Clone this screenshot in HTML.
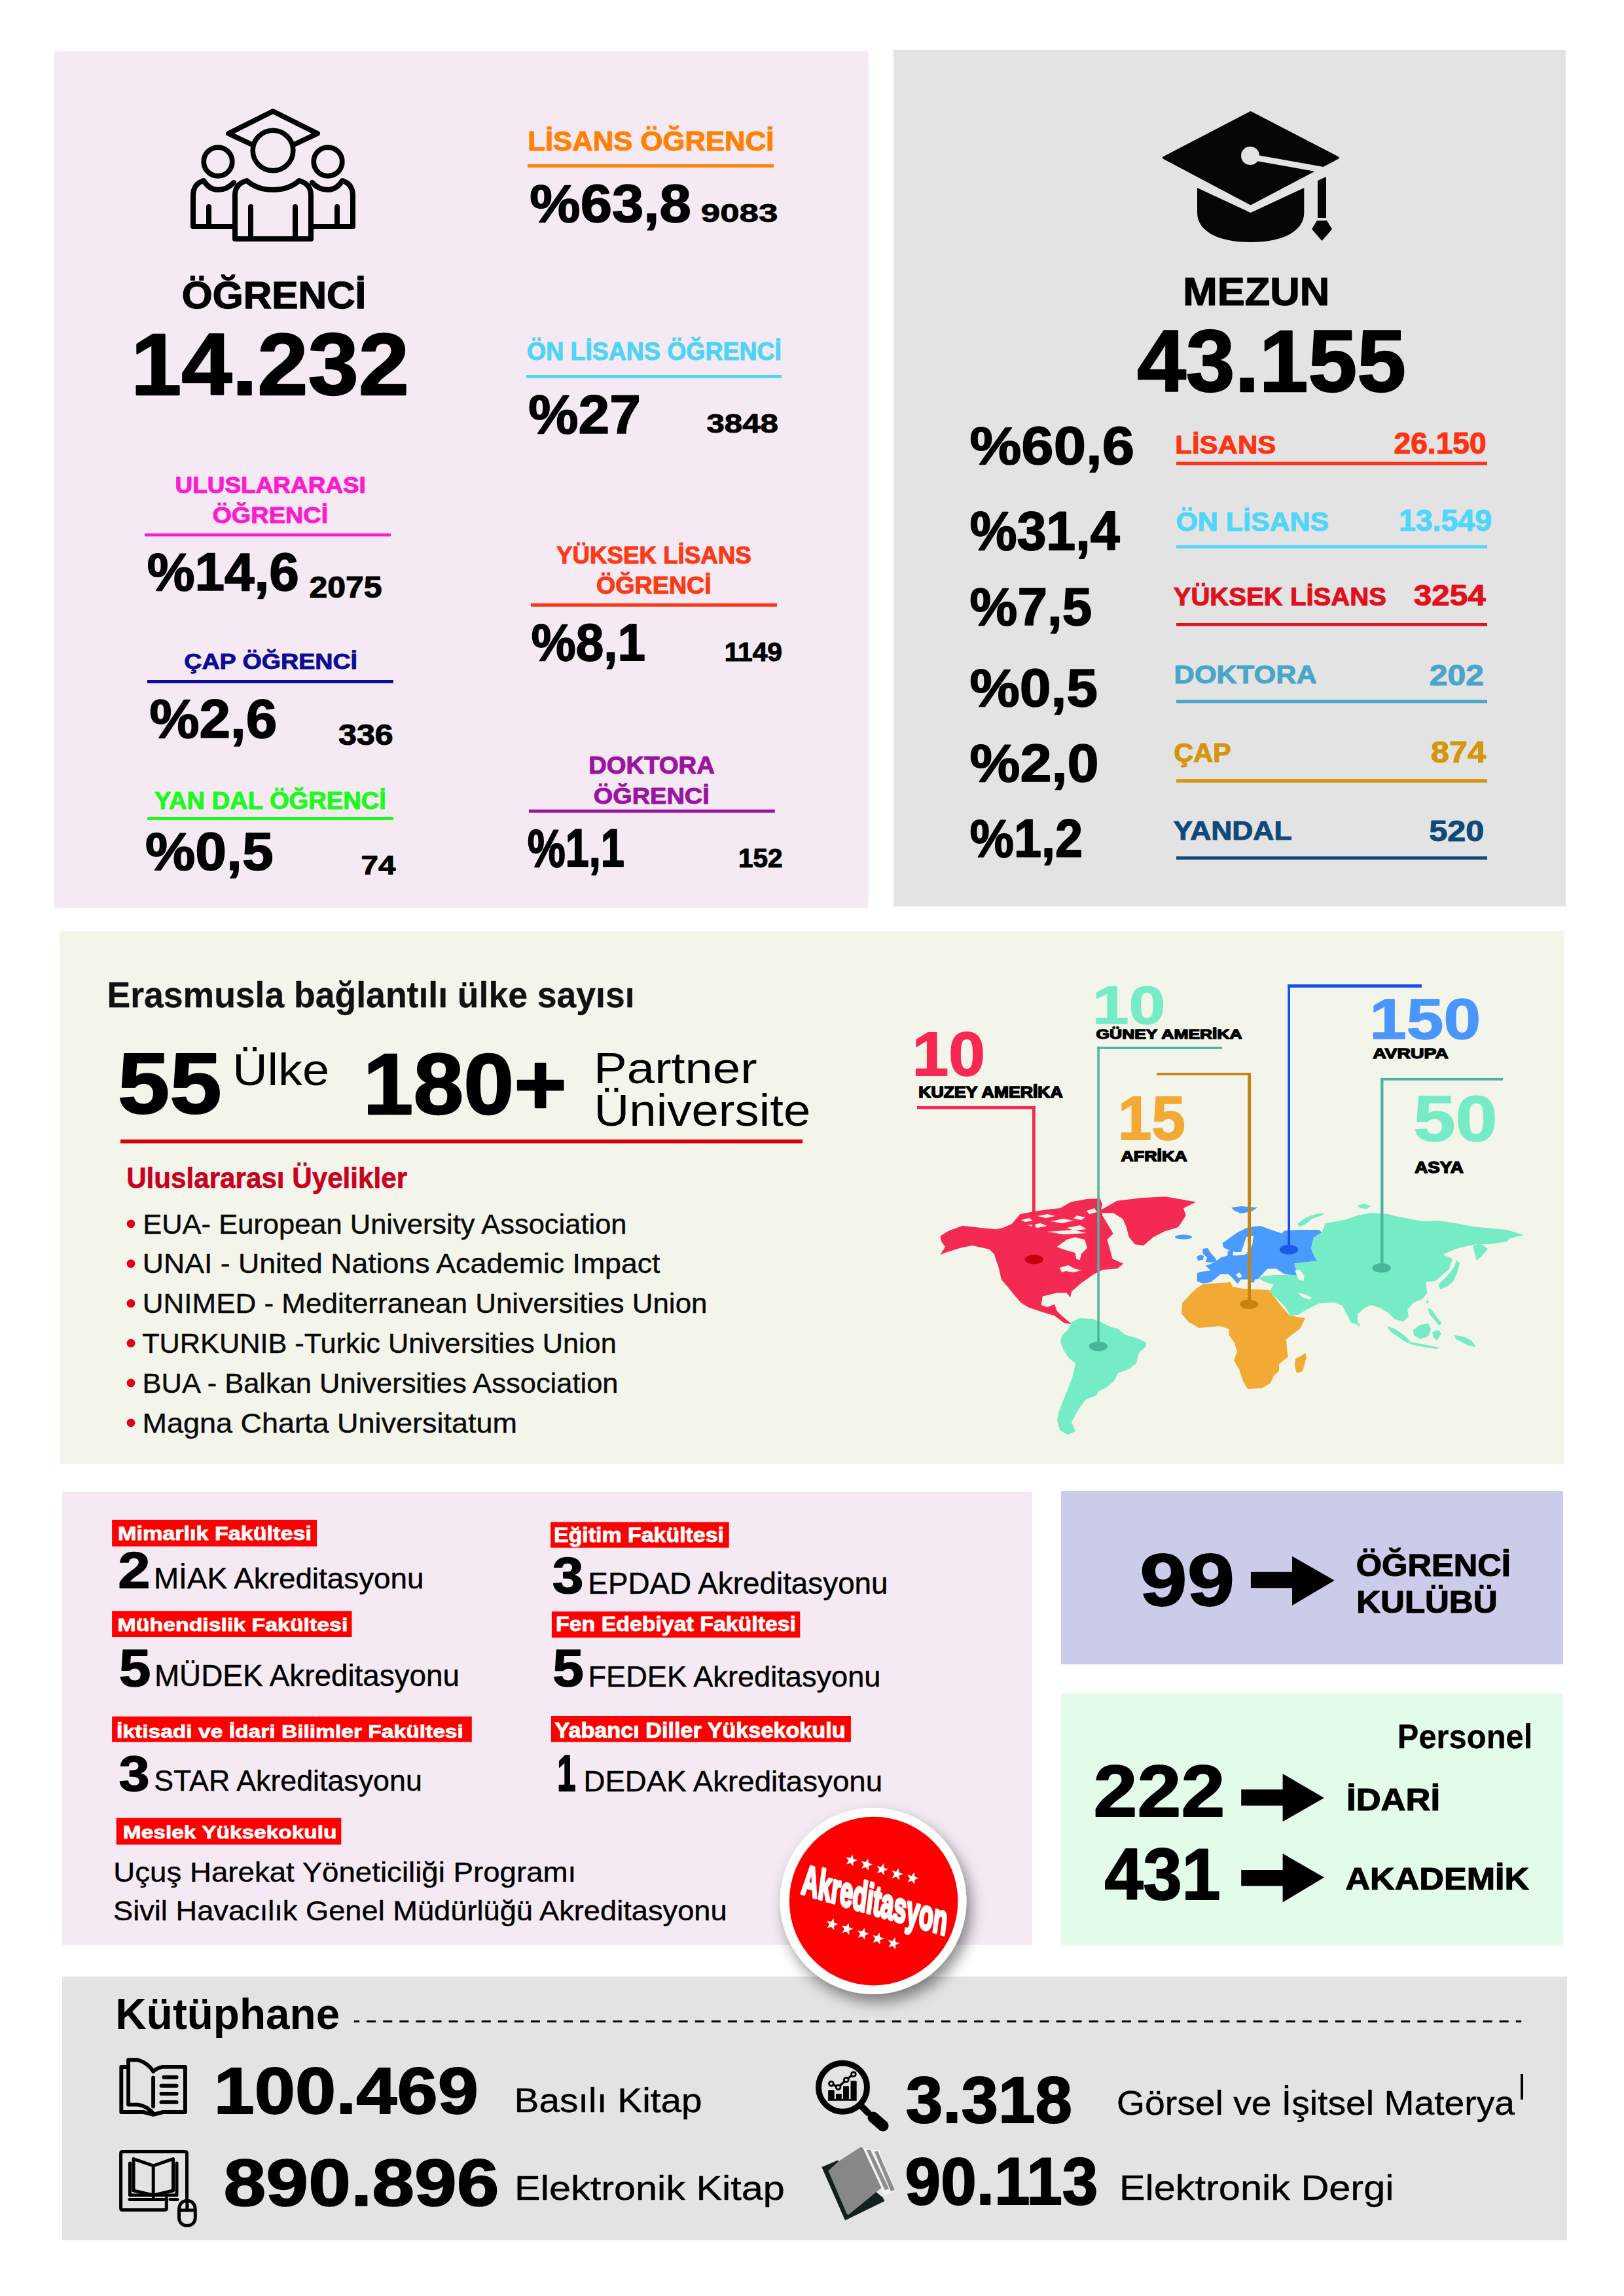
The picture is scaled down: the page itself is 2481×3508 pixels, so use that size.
<!DOCTYPE html>
<html lang="tr"><head><meta charset="utf-8"><title>Öğrenci ve Mezun İstatistikleri</title>
<style>
html,body{margin:0;padding:0;background:#fff;}
body{width:2481px;height:3508px;overflow:hidden;}
svg{display:block;}
text{font-family:"Liberation Sans",Arial,Helvetica,sans-serif;font-kerning:normal;}
text.b{font-weight:700;}
text.r{font-weight:400;}
</style></head><body>
<svg xmlns="http://www.w3.org/2000/svg" width="2481" height="3508" viewBox="0 0 2481 3508">
<rect x="0" y="0" width="2481" height="3508" fill="#ffffff"/>
<rect x="83.0" y="78.0" width="1244.0" height="1309.0" fill="#f5eaf4"/>
<rect x="1365.0" y="76.0" width="1027.0" height="1309.0" fill="#e3e3e3"/>
<rect x="91.0" y="1423.0" width="2298.0" height="814.0" fill="#f4f5ea"/>
<rect x="95.0" y="2279.0" width="1482.0" height="693.0" fill="#f5eaf4"/>
<rect x="1621.0" y="2278.0" width="767.0" height="265.0" fill="#cbcbea"/>
<rect x="1621.0" y="2587.0" width="767.0" height="385.0" fill="#e3fcea"/>
<rect x="95.0" y="3020.0" width="2299.0" height="403.0" fill="#e3e3e3"/>
<g fill="none" stroke="#000" stroke-width="8" stroke-linejoin="round" stroke-linecap="round">
<polygon points="349,204 417,170 485,204 417,236"/>
<circle cx="333" cy="247" r="21.8" fill="#f5eaf4" stroke-width="7.7"/>
<circle cx="501" cy="247" r="21.8" fill="#f5eaf4" stroke-width="7.7"/>
<path d="M357,346 L295,346 L295,299 Q295,281 311,276 Q320,290 333,290 Q347,290 357,279"/>
<path d="M477,346 L539,346 L539,299 Q539,281 523,276 Q514,290 501,290 Q487,290 477,279"/>
<path d="M319,316 L319,346 M515,316 L515,346"/>
<path d="M359,365 L359,298 Q359,281 377,276 Q393,290 417,290 Q441,290 457,276 Q475,281 475,298 L475,365 Z" fill="#f5eaf4"/>
<path d="M383,316 L383,365 M451,316 L451,365"/>
<circle cx="417" cy="230" r="30.8" fill="#f5eaf4" stroke-width="7.6"/>
</g>
<text class="b" x="277.87" y="471.21" font-size="57.64" textLength="281.49" lengthAdjust="spacingAndGlyphs" fill="#000000" stroke="#000000" stroke-width="1.31" stroke-linejoin="round">ÖĞRENCİ</text>
<text class="b" x="200.01" y="602.80" font-size="132.77" textLength="425.17" lengthAdjust="spacingAndGlyphs" fill="#000000" stroke="#000000" stroke-width="2.29" stroke-linejoin="round">14.232</text>
<text class="b" x="806.24" y="230.42" font-size="41.94" textLength="376.11" lengthAdjust="spacingAndGlyphs" fill="#ff8205" stroke="#ff8205" stroke-width="1.12" stroke-linejoin="round">LİSANS ÖĞRENCİ</text>
<rect x="806.0" y="251.0" width="376.0" height="5.0" fill="#ff8205"/>
<text class="b" x="809.38" y="338.55" font-size="81.71" textLength="246.42" lengthAdjust="spacingAndGlyphs" fill="#000000" stroke="#000000" stroke-width="1.61" stroke-linejoin="round">%63,8</text>
<text class="b" x="1070.72" y="338.83" font-size="39.09" textLength="117.68" lengthAdjust="spacingAndGlyphs" fill="#000000" stroke="#000000" stroke-width="0.84" stroke-linejoin="round">9083</text>
<text class="b" x="805.06" y="549.84" font-size="38.51" textLength="388.90" lengthAdjust="spacingAndGlyphs" fill="#4fd4f6" stroke="#4fd4f6" stroke-width="1.15" stroke-linejoin="round">ÖN LİSANS ÖĞRENCİ</text>
<rect x="804.0" y="573.0" width="390.0" height="4.6" fill="#4fd4f6"/>
<text class="b" x="807.33" y="661.53" font-size="84.10" textLength="171.58" lengthAdjust="spacingAndGlyphs" fill="#000000" stroke="#000000" stroke-width="1.71" stroke-linejoin="round">%27</text>
<text class="b" x="1079.48" y="661.42" font-size="41.34" textLength="109.53" lengthAdjust="spacingAndGlyphs" fill="#000000" stroke="#000000" stroke-width="0.98" stroke-linejoin="round">3848</text>
<text class="b" x="267.62" y="753.26" font-size="35.37" textLength="291.28" lengthAdjust="spacingAndGlyphs" fill="#fc1ccf" stroke="#fc1ccf" stroke-width="1.03" stroke-linejoin="round">ULUSLARARASI</text>
<text class="b" x="324.42" y="799.07" font-size="34.23" textLength="176.79" lengthAdjust="spacingAndGlyphs" fill="#fc1ccf" stroke="#fc1ccf" stroke-width="0.96" stroke-linejoin="round">ÖĞRENCİ</text>
<rect x="221.0" y="815.0" width="376.0" height="4.5" fill="#fc1ccf"/>
<text class="b" x="224.70" y="902.15" font-size="81.00" textLength="232.06" lengthAdjust="spacingAndGlyphs" fill="#000000" stroke="#000000" stroke-width="1.68" stroke-linejoin="round">%14,6</text>
<text class="b" x="472.46" y="913.39" font-size="45.56" textLength="111.11" lengthAdjust="spacingAndGlyphs" fill="#000000" stroke="#000000" stroke-width="1.12" stroke-linejoin="round">2075</text>
<text class="b" x="281.22" y="1022.08" font-size="33.09" textLength="264.82" lengthAdjust="spacingAndGlyphs" fill="#0c0c94" stroke="#0c0c94" stroke-width="0.92" stroke-linejoin="round">ÇAP ÖĞRENCİ</text>
<rect x="225.0" y="1039.0" width="375.8" height="5.0" fill="#0c0c94"/>
<text class="b" x="228.42" y="1127.14" font-size="82.69" textLength="194.87" lengthAdjust="spacingAndGlyphs" fill="#000000" stroke="#000000" stroke-width="1.67" stroke-linejoin="round">%2,6</text>
<text class="b" x="517.08" y="1137.79" font-size="45.28" textLength="83.61" lengthAdjust="spacingAndGlyphs" fill="#000000" stroke="#000000" stroke-width="1.10" stroke-linejoin="round">336</text>
<text class="b" x="236.08" y="1235.86" font-size="36.09" textLength="353.84" lengthAdjust="spacingAndGlyphs" fill="#1cfb1c" stroke="#1cfb1c" stroke-width="1.03" stroke-linejoin="round">YAN DAL ÖĞRENCİ</text>
<rect x="225.0" y="1248.0" width="376.0" height="5.0" fill="#1cfb1c"/>
<text class="b" x="222.01" y="1329.14" font-size="82.13" textLength="195.65" lengthAdjust="spacingAndGlyphs" fill="#000000" stroke="#000000" stroke-width="1.64" stroke-linejoin="round">%0,5</text>
<text class="b" x="551.55" y="1335.93" font-size="39.80" textLength="52.93" lengthAdjust="spacingAndGlyphs" fill="#000000" stroke="#000000" stroke-width="0.95" stroke-linejoin="round">74</text>
<text class="b" x="849.91" y="861.14" font-size="37.80" textLength="297.90" lengthAdjust="spacingAndGlyphs" fill="#fb3a16" stroke="#fb3a16" stroke-width="1.14" stroke-linejoin="round">YÜKSEK LİSANS</text>
<text class="b" x="911.05" y="907.15" font-size="37.23" textLength="175.73" lengthAdjust="spacingAndGlyphs" fill="#fb3a16" stroke="#fb3a16" stroke-width="1.09" stroke-linejoin="round">ÖĞRENCİ</text>
<rect x="811.0" y="921.7" width="376.0" height="5.2" fill="#fb3a16"/>
<text class="b" x="811.74" y="1008.75" font-size="80.58" textLength="174.16" lengthAdjust="spacingAndGlyphs" fill="#000000" stroke="#000000" stroke-width="1.79" stroke-linejoin="round">%8,1</text>
<text class="b" x="1106.64" y="1009.82" font-size="40.92" textLength="88.29" lengthAdjust="spacingAndGlyphs" fill="#000000" stroke="#000000" stroke-width="1.17" stroke-linejoin="round">1149</text>
<text class="b" x="899.17" y="1181.95" font-size="37.09" textLength="192.62" lengthAdjust="spacingAndGlyphs" fill="#9a14a0" stroke="#9a14a0" stroke-width="1.07" stroke-linejoin="round">DOKTORA</text>
<text class="b" x="906.72" y="1227.76" font-size="34.95" textLength="176.99" lengthAdjust="spacingAndGlyphs" fill="#9a14a0" stroke="#9a14a0" stroke-width="0.99" stroke-linejoin="round">ÖĞRENCİ</text>
<rect x="808.0" y="1236.8" width="375.8" height="4.9" fill="#9a14a0"/>
<text class="b" x="806.03" y="1324.35" font-size="82.18" textLength="147.93" lengthAdjust="spacingAndGlyphs" fill="#000000" stroke="#000000" stroke-width="2.15" stroke-linejoin="round">%1,1</text>
<text class="b" x="1128.05" y="1324.62" font-size="40.92" textLength="67.63" lengthAdjust="spacingAndGlyphs" fill="#000000" stroke="#000000" stroke-width="1.17" stroke-linejoin="round">152</text>
<g fill="#050505">
<polygon points="1778,241 1910.6,172 2043.7,241 1910.6,311.3" stroke="#050505" stroke-width="4" stroke-linejoin="round"/>
<line x1="1912" y1="240" x2="2024" y2="260" stroke="#e3e3e3" stroke-width="9"/>
<circle cx="1910" cy="238" r="14" fill="#e3e3e3"/>
<path d="M1829,287 L1910.6,325 L1992.3,287 L1992.3,325 C1992.3,352 1962,370 1910.6,370 C1859,370 1829,352 1829,325 Z"/>
<polygon points="2013,276 2026,270 2026,333 2013,333"/>
<polygon points="2012,337 2027,337 2035,350 2019.5,368 2004,350"/>
</g>
<text class="b" x="1807.35" y="466.30" font-size="59.06" textLength="223.82" lengthAdjust="spacingAndGlyphs" fill="#000000" stroke="#000000" stroke-width="1.31" stroke-linejoin="round">MEZUN</text>
<text class="b" x="1737.19" y="598.30" font-size="133.61" textLength="410.76" lengthAdjust="spacingAndGlyphs" fill="#000000" stroke="#000000" stroke-width="2.39" stroke-linejoin="round">43.155</text>
<text class="b" x="1481.44" y="709.14" font-size="81.85" textLength="251.66" lengthAdjust="spacingAndGlyphs" fill="#000000" stroke="#000000" stroke-width="1.58" stroke-linejoin="round">%60,6</text>
<text class="b" x="1795.33" y="693.23" font-size="39.37" textLength="153.86" lengthAdjust="spacingAndGlyphs" fill="#fc3414" stroke="#fc3414" stroke-width="1.06" stroke-linejoin="round">LİSANS</text>
<text class="b" x="2129.60" y="692.59" font-size="45.98" textLength="140.98" lengthAdjust="spacingAndGlyphs" fill="#fc3414" stroke="#fc3414" stroke-width="1.23" stroke-linejoin="round">26.150</text>
<rect x="1797.0" y="705.6" width="475.0" height="5.2" fill="#fc3414"/>
<text class="b" x="1481.64" y="839.54" font-size="83.11" textLength="229.04" lengthAdjust="spacingAndGlyphs" fill="#000000" stroke="#000000" stroke-width="1.78" stroke-linejoin="round">%31,4</text>
<text class="b" x="1796.46" y="811.42" font-size="41.23" textLength="233.67" lengthAdjust="spacingAndGlyphs" fill="#4fd6fc" stroke="#4fd6fc" stroke-width="1.11" stroke-linejoin="round">ÖN LİSANS</text>
<text class="b" x="2137.01" y="810.69" font-size="45.56" textLength="141.96" lengthAdjust="spacingAndGlyphs" fill="#4fd6fc" stroke="#4fd6fc" stroke-width="1.20" stroke-linejoin="round">13.549</text>
<rect x="1797.0" y="833.2" width="475.0" height="4.5" fill="#4fd6fc"/>
<text class="b" x="1481.60" y="954.95" font-size="82.18" textLength="186.65" lengthAdjust="spacingAndGlyphs" fill="#000000" stroke="#000000" stroke-width="1.71" stroke-linejoin="round">%7,5</text>
<text class="b" x="1792.66" y="924.83" font-size="39.37" textLength="325.27" lengthAdjust="spacingAndGlyphs" fill="#e0101c" stroke="#e0101c" stroke-width="1.11" stroke-linejoin="round">YÜKSEK LİSANS</text>
<text class="b" x="2159.89" y="925.40" font-size="44.15" textLength="109.76" lengthAdjust="spacingAndGlyphs" fill="#e0101c" stroke="#e0101c" stroke-width="1.08" stroke-linejoin="round">3254</text>
<rect x="1797.0" y="952.0" width="475.0" height="4.5" fill="#e0101c"/>
<text class="b" x="1481.51" y="1079.34" font-size="82.41" textLength="195.55" lengthAdjust="spacingAndGlyphs" fill="#000000" stroke="#000000" stroke-width="1.65" stroke-linejoin="round">%0,5</text>
<text class="b" x="1793.64" y="1043.93" font-size="39.23" textLength="218.17" lengthAdjust="spacingAndGlyphs" fill="#4aa6c8" stroke="#4aa6c8" stroke-width="1.02" stroke-linejoin="round">DOKTORA</text>
<text class="b" x="2183.86" y="1047.09" font-size="45.14" textLength="83.15" lengthAdjust="spacingAndGlyphs" fill="#4aa6c8" stroke="#4aa6c8" stroke-width="1.10" stroke-linejoin="round">202</text>
<rect x="1797.0" y="1069.2" width="475.0" height="5.1" fill="#4aa6c8"/>
<text class="b" x="1481.49" y="1193.84" font-size="82.27" textLength="197.27" lengthAdjust="spacingAndGlyphs" fill="#000000" stroke="#000000" stroke-width="1.63" stroke-linejoin="round">%2,0</text>
<text class="b" x="1793.32" y="1163.73" font-size="40.23" textLength="87.41" lengthAdjust="spacingAndGlyphs" fill="#d4960f" stroke="#d4960f" stroke-width="1.11" stroke-linejoin="round">ÇAP</text>
<text class="b" x="2185.67" y="1164.58" font-size="46.40" textLength="84.52" lengthAdjust="spacingAndGlyphs" fill="#d4960f" stroke="#d4960f" stroke-width="1.13" stroke-linejoin="round">874</text>
<rect x="1797.0" y="1190.2" width="475.0" height="5.5" fill="#d4960f"/>
<text class="b" x="1481.76" y="1309.45" font-size="81.57" textLength="172.36" lengthAdjust="spacingAndGlyphs" fill="#000000" stroke="#000000" stroke-width="1.84" stroke-linejoin="round">%1,2</text>
<text class="b" x="1792.60" y="1283.12" font-size="41.08" textLength="180.95" lengthAdjust="spacingAndGlyphs" fill="#0f4a7b" stroke="#0f4a7b" stroke-width="1.07" stroke-linejoin="round">YANDAL</text>
<text class="b" x="2183.19" y="1284.70" font-size="44.15" textLength="83.97" lengthAdjust="spacingAndGlyphs" fill="#0f4a7b" stroke="#0f4a7b" stroke-width="1.06" stroke-linejoin="round">520</text>
<rect x="1797.0" y="1308.4" width="475.0" height="5.1" fill="#0f4a7b"/>
<text class="b" x="163.54" y="1538.55" font-size="55.85" textLength="806.09" lengthAdjust="spacingAndGlyphs" fill="#111111" stroke="#111111" stroke-width="0.31" stroke-linejoin="round">Erasmusla bağlantılı ülke sayısı</text>
<text class="b" x="179.69" y="1700.82" font-size="131.84" textLength="158.89" lengthAdjust="spacingAndGlyphs" fill="#000000" stroke="#000000" stroke-width="2.18" stroke-linejoin="round">55</text>
<text class="r" x="355.17" y="1658.30" font-size="69.09" textLength="148.02" lengthAdjust="spacingAndGlyphs" fill="#000000">Ülke</text>
<text class="b" x="554.56" y="1701.60" font-size="132.49" textLength="311.32" lengthAdjust="spacingAndGlyphs" fill="#000000" stroke="#000000" stroke-width="2.29" stroke-linejoin="round">180+</text>
<text class="r" x="907.13" y="1654.70" font-size="67.49" textLength="249.37" lengthAdjust="spacingAndGlyphs" fill="#000000">Partner</text>
<text class="r" x="907.64" y="1719.70" font-size="67.93" textLength="330.70" lengthAdjust="spacingAndGlyphs" fill="#000000">Üniversite</text>
<rect x="184.0" y="1741.0" width="1042.0" height="6.0" fill="#d9000d"/>
<text class="b" x="193.17" y="1815.10" font-size="43.93" textLength="428.89" lengthAdjust="spacingAndGlyphs" fill="#c8001e" stroke="#c8001e" stroke-width="0.63" stroke-linejoin="round">Uluslararası Üyelikler</text>
<text class="r" x="218.24" y="1884.58" font-size="43.42" textLength="739.29" lengthAdjust="spacingAndGlyphs" fill="#0a0a0a" stroke="#0a0a0a" stroke-width="0.45" stroke-linejoin="round">EUA- European University Association</text>
<circle cx="200" cy="1869.8" r="6.4" fill="#e0001a"/>
<text class="r" x="217.77" y="1945.38" font-size="43.42" textLength="790.62" lengthAdjust="spacingAndGlyphs" fill="#0a0a0a" stroke="#0a0a0a" stroke-width="0.44" stroke-linejoin="round">UNAI - United Nations Academic Impact</text>
<circle cx="200" cy="1930.6" r="6.4" fill="#e0001a"/>
<text class="r" x="217.82" y="2006.17" font-size="43.42" textLength="862.74" lengthAdjust="spacingAndGlyphs" fill="#0a0a0a" stroke="#0a0a0a" stroke-width="0.44" stroke-linejoin="round">UNIMED - Mediterranean Universities Union</text>
<circle cx="200" cy="1991.4" r="6.4" fill="#e0001a"/>
<text class="r" x="217.15" y="2066.97" font-size="43.42" textLength="724.60" lengthAdjust="spacingAndGlyphs" fill="#0a0a0a" stroke="#0a0a0a" stroke-width="0.45" stroke-linejoin="round">TURKUNIB -Turkic Universities Union</text>
<circle cx="200" cy="2052.2" r="6.4" fill="#e0001a"/>
<text class="r" x="217.64" y="2127.78" font-size="43.42" textLength="726.85" lengthAdjust="spacingAndGlyphs" fill="#0a0a0a" stroke="#0a0a0a" stroke-width="0.45" stroke-linejoin="round">BUA - Balkan Universities Association</text>
<circle cx="200" cy="2113.0" r="6.4" fill="#e0001a"/>
<text class="r" x="217.51" y="2188.58" font-size="43.42" textLength="572.61" lengthAdjust="spacingAndGlyphs" fill="#0a0a0a" stroke="#0a0a0a" stroke-width="0.43" stroke-linejoin="round">Magna Charta Universitatum</text>
<circle cx="200" cy="2173.8" r="6.4" fill="#e0001a"/>
<polygon points="1436.5,1888.4 1448.5,1881.0 1470.6,1872.7 1494.7,1875.4 1522.4,1878.2 1533.5,1875.4 1545.5,1869.9 1558.5,1855.1 1577.0,1851.4 1601.0,1847.7 1619.4,1845.9 1636.0,1836.6 1660.0,1832.0 1680.4,1831.1 1684.0,1840.0 1682.3,1845.9 1684.1,1857.0 1700.7,1884.7 1691.5,1893.9 1694.0,1903.0 1699.7,1923.5 1716.3,1930.8 1707.0,1938.2 1685.0,1940.0 1670.0,1947.5 1651.7,1960.4 1637.0,1973.3 1635.0,1982.6 1629.5,1975.2 1614.7,1975.2 1592.6,1980.7 1590.7,1993.7 1600.0,1997.3 1611.0,1992.7 1614.7,2002.9 1622.1,2010.3 1633.2,2019.5 1636.9,2023.2 1625.8,2021.4 1611.0,2010.3 1592.6,2004.7 1570.4,1997.3 1559.3,1990.0 1548.2,1977.0 1540.8,1967.8 1529.8,1954.9 1526.1,1938.2 1518.7,1916.1 1511.3,1908.7 1485.4,1903.1 1467.0,1906.8 1448.5,1912.4 1436.5,1917.0 1444.0,1905.0 1438.0,1897.0" fill="#f42a52"/>
<polygon points="1614.7,1905.0 1629.5,1893.9 1642.5,1890.2 1657.2,1893.9 1661.0,1906.8 1651.7,1916.0 1649.8,1925.3 1644.3,1923.5 1642.5,1914.2 1624.0,1908.7" fill="#f4f5ea"/>
<polygon points="1619.0,1937.0 1632.0,1933.0 1641.0,1938.0 1652.0,1941.0 1640.0,1944.0 1628.0,1942.0 1622.0,1944.0" fill="#f4f5ea"/>
<polygon points="1585.0,1858.0 1600.0,1855.0 1612.0,1858.0 1598.0,1861.0" fill="#f4f5ea"/>
<polygon points="1605.0,1866.0 1625.0,1862.0 1640.0,1865.0 1622.0,1869.0" fill="#f4f5ea"/>
<polygon points="1570.0,1872.0 1590.0,1869.0 1600.0,1873.0 1585.0,1876.0" fill="#f4f5ea"/>
<polygon points="1630.0,1876.0 1650.0,1872.0 1660.0,1878.0 1640.0,1880.0" fill="#f4f5ea"/>
<polygon points="1660.0,1850.0 1672.0,1846.0 1676.0,1852.0 1664.0,1855.0" fill="#f4f5ea"/>
<polygon points="1600.0,1882.0 1640.0,1879.0 1660.0,1884.0 1625.0,1886.0" fill="#f4f5ea"/>
<polygon points="1560.0,1864.0 1572.0,1861.0 1578.0,1865.0 1566.0,1867.0" fill="#f4f5ea"/>
<polygon points="1645.0,1857.0 1658.0,1860.0 1652.0,1864.0 1640.0,1862.0" fill="#f4f5ea"/>
<polygon points="1680.4,1849.6 1706.3,1834.8 1743.2,1830.2 1780.2,1828.3 1807.9,1832.9 1827.3,1836.6 1807.9,1845.9 1811.6,1856.9 1802.3,1871.7 1798.6,1875.4 1780.2,1881.0 1761.7,1890.2 1746.9,1903.1 1734.0,1901.3 1724.7,1890.2 1721.0,1875.4 1715.5,1862.5 1700.7,1853.3 1684.1,1853.3" fill="#f42a52"/>
<polygon points="1637.0,2020.0 1649.0,2014.0 1669.0,2015.0 1682.0,2020.0 1698.0,2028.0 1708.0,2030.0 1718.0,2039.0 1738.0,2045.0 1751.0,2051.0 1751.0,2057.0 1740.0,2067.0 1736.0,2083.0 1726.0,2091.0 1708.0,2098.0 1702.0,2110.0 1690.0,2120.0 1678.0,2126.0 1675.0,2132.0 1659.0,2138.0 1653.0,2146.0 1645.0,2158.0 1637.0,2173.0 1643.0,2187.0 1631.0,2192.0 1619.0,2185.0 1615.0,2170.0 1617.0,2158.0 1625.0,2138.0 1633.0,2118.0 1639.0,2102.0 1643.0,2083.0 1633.0,2075.0 1625.0,2063.0 1620.0,2051.0 1622.0,2041.0 1631.0,2032.0" fill="#76ecc6"/>
<polygon points="1828.8,1957.5 1828.8,1945.3 1833.5,1943.3 1849.8,1941.3 1841.7,1933.8 1848.4,1931.8 1856.6,1927.7 1864.7,1921.6 1875.5,1918.2 1875.5,1911.5 1883.7,1910.1 1883.7,1918.2 1890.4,1918.2 1901.3,1916.9 1906.7,1914.2 1897.0,1913.0 1888.0,1913.0 1880.0,1911.5 1869.0,1906.0 1867.4,1899.3 1878.0,1892.0 1890.4,1883.0 1906.7,1874.9 1925.7,1872.9 1941.9,1879.0 1958.2,1884.4 1962.2,1880.3 1982.6,1879.0 2015.1,1879.0 2019.1,1883.0 2006.9,1891.2 2002.9,1907.4 2006.9,1916.9 2012.4,1926.4 1977.1,1930.4 1979.8,1938.6 1982.6,1948.0 1973.1,1948.0 1962.2,1946.7 1950.0,1938.6 1936.5,1938.6 1928.4,1946.7 1923.0,1953.5 1917.5,1954.8 1914.8,1960.2 1912.1,1958.9 1906.7,1954.8 1895.9,1954.8 1890.4,1961.6 1885.0,1954.8 1876.9,1946.7 1864.7,1946.7 1856.6,1953.5 1849.8,1958.9 1837.6,1960.9" fill="#4a9bff"/>
<polygon points="1904.0,1890.0 1915.0,1888.0 1914.0,1898.0 1910.0,1910.0 1903.0,1915.0 1896.0,1913.0 1899.0,1905.0" fill="#f4f5ea"/>
<polygon points="1888.0,1948.0 1893.0,1944.0 1898.0,1950.0 1893.0,1953.0" fill="#f4f5ea"/>
<polygon points="1837.0,1908.0 1845.0,1907.0 1850.0,1915.0 1856.0,1921.0 1859.0,1927.0 1850.0,1929.0 1842.0,1928.0 1844.0,1921.0 1838.0,1916.0" fill="#4a9bff"/>
<polygon points="1828.0,1920.0 1834.0,1917.0 1839.0,1919.0 1838.0,1925.0 1830.0,1926.0" fill="#4a9bff"/>
<polygon points="1881.0,1845.0 1896.0,1843.0 1921.0,1845.0 1912.0,1851.0 1896.0,1854.0 1886.0,1850.0" fill="#4a9bff"/>
<ellipse cx="1808" cy="1890" rx="13" ry="3.6" fill="#4a9bff"/>
<polygon points="1838.0,1962.0 1880.0,1959.0 1883.0,1966.0 1899.0,1969.0 1918.0,1970.0 1939.0,1971.0 1954.0,1991.0 1970.0,2010.0 1994.0,2014.0 1986.0,2030.0 1965.0,2046.0 1966.0,2062.0 1968.0,2073.0 1954.0,2084.0 1954.0,2095.0 1946.0,2102.0 1941.0,2113.0 1928.0,2121.0 1906.0,2122.0 1899.0,2110.0 1893.0,2092.0 1885.0,2079.0 1890.0,2065.0 1886.0,2052.0 1877.0,2039.0 1878.0,2031.0 1864.0,2026.0 1832.0,2029.0 1816.0,2020.0 1805.0,2007.0 1806.0,1991.0 1818.0,1978.0 1827.0,1969.0" fill="#f2aa35"/>
<polygon points="1994.0,2067.0 1996.0,2073.0 1990.0,2095.0 1981.0,2098.0 1978.0,2087.0 1979.0,2076.0 1989.0,2071.0" fill="#f2aa35"/>
<polygon points="1923.0,1953.5 1931.1,1949.4 1948.7,1948.0 1962.2,1948.0 1973.1,1948.0 1982.6,1948.0 1979.8,1938.6 1977.1,1930.4 2012.4,1926.4 2006.9,1916.9 2002.9,1907.4 2006.9,1891.2 2019.1,1883.0 2025.0,1869.0 2054.0,1864.0 2074.0,1857.0 2095.0,1853.0 2121.0,1855.0 2131.0,1858.0 2173.0,1866.0 2199.0,1865.0 2224.0,1869.0 2250.0,1874.0 2276.0,1876.5 2302.0,1879.0 2328.0,1887.0 2307.0,1892.0 2302.0,1897.0 2276.0,1901.0 2258.0,1901.0 2250.0,1902.0 2224.0,1908.0 2204.0,1917.0 2219.0,1923.0 2214.0,1939.0 2193.0,1957.0 2178.0,1959.0 2180.5,1975.0 2173.0,1985.0 2160.0,1990.0 2150.0,2001.0 2152.0,2011.0 2144.0,2019.0 2131.0,2016.0 2121.0,2006.0 2108.0,1998.0 2095.0,1994.0 2085.0,1998.0 2074.0,2008.0 2074.0,2024.0 2064.0,2021.0 2051.0,1995.0 2038.0,1990.0 2015.1,1991.4 1996.1,2000.9 1982.6,2009.0 1971.7,2010.4 1962.2,1995.5 1948.7,1981.9 1939.2,1972.4 1946.0,1963.0 1931.0,1958.0" fill="#76ecc6"/>
<polygon points="1982.6,1975.0 1995.0,1978.0 2004.2,1983.0 2000.0,1986.0 1990.0,1982.0" fill="#f4f5ea"/>
<polygon points="1978.0,1941.0 1986.0,1940.0 1993.0,1950.0 1991.0,1957.5 1984.0,1955.0" fill="#f4f5ea"/>
<polygon points="2250.0,1903.0 2262.0,1900.0 2273.0,1908.0 2265.0,1918.0 2256.0,1926.0 2252.0,1912.0" fill="#76ecc6"/>
<polygon points="2198.0,1962.0 2205.0,1955.0 2215.0,1945.0 2222.0,1935.0 2225.0,1925.0 2230.0,1930.0 2226.0,1945.0 2220.0,1958.0 2210.0,1966.0 2200.0,1970.0" fill="#76ecc6"/>
<polygon points="1982.0,1870.0 1995.0,1860.0 2010.0,1855.0 2023.0,1853.0 2020.0,1857.0 2005.0,1862.0 1992.0,1872.0 1985.0,1874.0" fill="#76ecc6"/>
<polygon points="2074.0,1842.0 2084.0,1839.0 2094.0,1843.0 2088.0,1847.0 2078.0,1846.0" fill="#76ecc6"/>
<polygon points="2118.0,2026.0 2130.0,2030.0 2145.0,2040.0 2155.0,2050.0 2150.0,2052.0 2138.0,2044.0 2125.0,2035.0" fill="#76ecc6"/>
<polygon points="2152.0,2050.0 2170.0,2053.0 2190.0,2057.0 2200.0,2059.0 2195.0,2061.0 2175.0,2058.0 2155.0,2054.0" fill="#76ecc6"/>
<polygon points="2159.0,2032.0 2170.0,2024.0 2182.0,2022.0 2186.0,2030.0 2182.0,2042.0 2170.0,2046.0 2160.0,2040.0" fill="#76ecc6"/>
<polygon points="2188.0,2035.0 2198.0,2032.0 2202.0,2038.0 2195.0,2048.0 2190.0,2044.0" fill="#76ecc6"/>
<polygon points="2181.0,1998.0 2188.0,2002.0 2195.0,2012.0 2203.0,2022.0 2198.0,2025.0 2190.0,2015.0 2184.0,2008.0" fill="#76ecc6"/>
<polygon points="2222.0,2040.0 2235.0,2042.0 2248.0,2048.0 2255.0,2058.0 2244.0,2056.0 2232.0,2050.0 2224.0,2046.0" fill="#76ecc6"/>
<polygon points="2180.0,1985.0 2183.0,1990.0 2179.0,1992.0" fill="#76ecc6"/>
<polygon points="2074.0,2020.0 2078.0,2024.0 2075.0,2027.0" fill="#76ecc6"/>
<rect x="1401.0" y="1690.0" width="180.7" height="4.7" fill="#f42a52"/>
<rect x="1577.0" y="1690.0" width="4.7" height="234.0" fill="#f42a52"/>
<ellipse cx="1579.8" cy="1924.3" rx="14" ry="7.3" fill="#c4000e"/>
<rect x="1676.0" y="1599.4" width="190.9" height="3.5" fill="#4ab59c"/>
<rect x="1676.3" y="1599.4" width="3.5" height="457.6" fill="#4ab59c"/>
<ellipse cx="1677.9" cy="2057.1" rx="14.2" ry="7.3" fill="#4ab59a"/>
<rect x="1767.0" y="1639.2" width="144.0" height="3.7" fill="#c8820f"/>
<rect x="1906.2" y="1639.2" width="4.8" height="352.8" fill="#c8820f"/>
<ellipse cx="1908.1" cy="1992.8" rx="14" ry="7.3" fill="#c8820f"/>
<rect x="1967.3" y="1504.0" width="204.6" height="4.9" fill="#1450f0"/>
<rect x="1967.3" y="1504.0" width="3.7" height="405.0" fill="#1450f0"/>
<ellipse cx="1968.9" cy="1909.3" rx="14" ry="7.5" fill="#1a5ce8"/>
<rect x="2109.1" y="1646.9" width="186.9" height="3.9" fill="#4ab59c"/>
<rect x="2109.1" y="1646.9" width="4.4" height="290.1" fill="#4ab59c"/>
<ellipse cx="2110.7" cy="1937.3" rx="14.2" ry="7.2" fill="#4ab59a"/>
<text class="b" x="1393.58" y="1642.96" font-size="93.94" textLength="111.32" lengthAdjust="spacingAndGlyphs" fill="#f72852" stroke="#f72852" stroke-width="1.76" stroke-linejoin="round">10</text>
<text class="b" x="1403.30" y="1676.90" font-size="23.27" textLength="220.49" lengthAdjust="spacingAndGlyphs" fill="#000000" stroke="#000000" stroke-width="1.57" stroke-linejoin="round">KUZEY AMERİKA</text>
<text class="b" x="1668.69" y="1563.54" font-size="82.41" textLength="111.60" lengthAdjust="spacingAndGlyphs" fill="#76ecc6" stroke="#76ecc6" stroke-width="1.41" stroke-linejoin="round">10</text>
<text class="b" x="1674.54" y="1587.10" font-size="19.35" textLength="223.10" lengthAdjust="spacingAndGlyphs" fill="#000000" stroke="#000000" stroke-width="1.32" stroke-linejoin="round">GÜNEY AMERİKA</text>
<text class="b" x="1708.06" y="1741.46" font-size="95.17" textLength="102.76" lengthAdjust="spacingAndGlyphs" fill="#f2aa35" stroke="#f2aa35" stroke-width="1.93" stroke-linejoin="round">15</text>
<text class="b" x="1712.43" y="1773.80" font-size="22.69" textLength="101.21" lengthAdjust="spacingAndGlyphs" fill="#000000" stroke="#000000" stroke-width="1.52" stroke-linejoin="round">AFRİKA</text>
<text class="b" x="2092.22" y="1586.61" font-size="86.35" textLength="169.87" lengthAdjust="spacingAndGlyphs" fill="#4a96ff" stroke="#4a96ff" stroke-width="1.50" stroke-linejoin="round">150</text>
<text class="b" x="2097.19" y="1616.90" font-size="21.67" textLength="115.67" lengthAdjust="spacingAndGlyphs" fill="#000000" stroke="#000000" stroke-width="1.37" stroke-linejoin="round">AVRUPA</text>
<text class="b" x="2159.51" y="1743.24" font-size="97.88" textLength="128.00" lengthAdjust="spacingAndGlyphs" fill="#76ecc6" stroke="#76ecc6" stroke-width="1.64" stroke-linejoin="round">50</text>
<text class="b" x="2161.21" y="1792.10" font-size="23.27" textLength="74.53" lengthAdjust="spacingAndGlyphs" fill="#000000" stroke="#000000" stroke-width="1.51" stroke-linejoin="round">ASYA</text>
<rect x="171.1" y="2322.0" width="312.9" height="40.7" fill="#fe0000"/>
<text class="b" x="180.00" y="2352.90" font-size="29.38" textLength="295.90" lengthAdjust="spacingAndGlyphs" fill="#ffffff" stroke="#ffffff" stroke-width="0.86" stroke-linejoin="round">Mimarlık Fakültesi</text>
<text class="b" x="180.23" y="2425.97" font-size="77.63" textLength="49.27" lengthAdjust="spacingAndGlyphs" fill="#000000" stroke="#000000" stroke-width="1.45" stroke-linejoin="round">2</text>
<text class="r" x="234.94" y="2426.78" font-size="43.71" textLength="412.61" lengthAdjust="spacingAndGlyphs" fill="#000000" stroke="#000000" stroke-width="0.43" stroke-linejoin="round">MİAK Akreditasyonu</text>
<rect x="171.1" y="2461.4" width="366.4" height="39.6" fill="#fe0000"/>
<text class="b" x="179.61" y="2492.31" font-size="28.10" textLength="351.72" lengthAdjust="spacingAndGlyphs" fill="#ffffff" stroke="#ffffff" stroke-width="0.82" stroke-linejoin="round">Mühendislik Fakültesi</text>
<text class="b" x="181.70" y="2575.67" font-size="78.76" textLength="48.68" lengthAdjust="spacingAndGlyphs" fill="#000000" stroke="#000000" stroke-width="1.49" stroke-linejoin="round">5</text>
<text class="r" x="235.94" y="2576.47" font-size="45.31" textLength="466.16" lengthAdjust="spacingAndGlyphs" fill="#000000" stroke="#000000" stroke-width="0.44" stroke-linejoin="round">MÜDEK Akreditasyonu</text>
<rect x="171.1" y="2622.6" width="549.7" height="39.0" fill="#fe0000"/>
<text class="b" x="178.02" y="2654.72" font-size="26.81" textLength="529.84" lengthAdjust="spacingAndGlyphs" fill="#ffffff" stroke="#ffffff" stroke-width="0.77" stroke-linejoin="round">İktisadi ve İdari Bilimler Fakültesi</text>
<text class="b" x="181.61" y="2735.68" font-size="76.36" textLength="47.14" lengthAdjust="spacingAndGlyphs" fill="#000000" stroke="#000000" stroke-width="1.48" stroke-linejoin="round">3</text>
<text class="r" x="235.21" y="2736.28" font-size="44.44" textLength="409.58" lengthAdjust="spacingAndGlyphs" fill="#000000" stroke="#000000" stroke-width="0.45" stroke-linejoin="round">STAR Akreditasyonu</text>
<rect x="177.7" y="2777.7" width="343.6" height="40.7" fill="#fe0000"/>
<text class="b" x="187.83" y="2808.62" font-size="26.95" textLength="326.73" lengthAdjust="spacingAndGlyphs" fill="#ffffff" stroke="#ffffff" stroke-width="0.78" stroke-linejoin="round">Meslek Yüksekokulu</text>
<text class="r" x="173.29" y="2875.38" font-size="42.84" textLength="706.96" lengthAdjust="spacingAndGlyphs" fill="#000000" stroke="#000000" stroke-width="0.42" stroke-linejoin="round">Uçuş Harekat Yöneticiliği Programı</text>
<text class="r" x="172.99" y="2934.18" font-size="42.40" textLength="937.65" lengthAdjust="spacingAndGlyphs" fill="#000000" stroke="#000000" stroke-width="0.42" stroke-linejoin="round">Sivil Havacılık Genel Müdürlüğü Akreditasyonu</text>
<rect x="841.1" y="2325.5" width="272.6" height="39.2" fill="#fe0000"/>
<text class="b" x="846.03" y="2356.39" font-size="31.38" textLength="259.98" lengthAdjust="spacingAndGlyphs" fill="#ffffff" stroke="#ffffff" stroke-width="0.95" stroke-linejoin="round">Eğitim Fakültesi</text>
<text class="b" x="843.80" y="2434.17" font-size="78.33" textLength="47.78" lengthAdjust="spacingAndGlyphs" fill="#000000" stroke="#000000" stroke-width="1.52" stroke-linejoin="round">3</text>
<text class="r" x="898.35" y="2434.78" font-size="45.89" textLength="458.21" lengthAdjust="spacingAndGlyphs" fill="#000000" stroke="#000000" stroke-width="0.45" stroke-linejoin="round">EPDAD Akreditasyonu</text>
<rect x="842.9" y="2462.2" width="379.4" height="39.9" fill="#fe0000"/>
<text class="b" x="849.08" y="2492.39" font-size="30.67" textLength="366.91" lengthAdjust="spacingAndGlyphs" fill="#ffffff" stroke="#ffffff" stroke-width="0.95" stroke-linejoin="round">Fen  Edebiyat Fakültesi</text>
<text class="b" x="844.16" y="2576.17" font-size="79.33" textLength="47.67" lengthAdjust="spacingAndGlyphs" fill="#000000" stroke="#000000" stroke-width="1.54" stroke-linejoin="round">5</text>
<text class="r" x="898.50" y="2576.78" font-size="44.44" textLength="446.97" lengthAdjust="spacingAndGlyphs" fill="#000000" stroke="#000000" stroke-width="0.44" stroke-linejoin="round">FEDEK Akreditasyonu</text>
<rect x="842.0" y="2622.0" width="457.9" height="39.6" fill="#fe0000"/>
<text class="b" x="847.53" y="2654.77" font-size="33.38" textLength="444.08" lengthAdjust="spacingAndGlyphs" fill="#ffffff" stroke="#ffffff" stroke-width="1.03" stroke-linejoin="round">Yabancı Diller Yüksekokulu</text>
<text class="b" x="851.14" y="2736.08" font-size="77.62" textLength="28.30" lengthAdjust="spacingAndGlyphs" fill="#000000" stroke="#000000" stroke-width="2.50" stroke-linejoin="round">1</text>
<text class="r" x="891.46" y="2736.68" font-size="45.02" textLength="456.59" lengthAdjust="spacingAndGlyphs" fill="#000000" stroke="#000000" stroke-width="0.44" stroke-linejoin="round">DEDAK Akreditasyonu</text>
<defs><filter id="sh" x="-30%" y="-30%" width="160%" height="160%"><feDropShadow dx="7" dy="12" stdDeviation="11" flood-color="#000" flood-opacity="0.45"/></filter></defs>
<circle cx="1334" cy="2904.4" r="142.5" fill="#ffffff" filter="url(#sh)"/>
<circle cx="1334.6" cy="2904.6" r="128.8" fill="#fe0000"/>
<polygon points="1302.9,2833.4 1303.5,2840.1 1309.9,2842.3 1303.6,2844.9 1303.6,2851.6 1299.2,2846.5 1292.7,2848.5 1296.3,2842.7 1292.3,2837.2 1298.9,2838.8" fill="#ffffff"/>
<polygon points="1326.3,2839.7 1326.9,2846.4 1333.3,2848.6 1327.0,2851.2 1327.0,2857.9 1322.6,2852.8 1316.1,2854.8 1319.7,2849.0 1315.7,2843.5 1322.3,2845.1" fill="#ffffff"/>
<polygon points="1350.0,2847.0 1350.6,2853.7 1357.0,2855.9 1350.7,2858.5 1350.7,2865.2 1346.3,2860.1 1339.8,2862.1 1343.4,2856.3 1339.4,2850.8 1346.0,2852.4" fill="#ffffff"/>
<polygon points="1373.0,2854.3 1373.6,2861.0 1380.0,2863.2 1373.7,2865.8 1373.7,2872.5 1369.3,2867.4 1362.8,2869.4 1366.4,2863.6 1362.4,2858.1 1369.0,2859.7" fill="#ffffff"/>
<polygon points="1396.7,2860.6 1397.3,2867.3 1403.7,2869.5 1397.4,2872.1 1397.4,2878.8 1393.0,2873.7 1386.5,2875.7 1390.1,2869.9 1386.1,2864.4 1392.7,2866.0" fill="#ffffff"/>
<polygon points="1273.6,2930.8 1274.2,2937.5 1280.6,2939.7 1274.3,2942.3 1274.3,2949.0 1269.9,2943.9 1263.4,2945.9 1267.0,2940.1 1263.0,2934.6 1269.6,2936.2" fill="#ffffff"/>
<polygon points="1296.6,2938.1 1297.2,2944.8 1303.6,2947.0 1297.3,2949.6 1297.3,2956.3 1292.9,2951.2 1286.4,2953.2 1290.0,2947.4 1286.0,2941.9 1292.6,2943.5" fill="#ffffff"/>
<polygon points="1320.7,2945.4 1321.3,2952.1 1327.7,2954.3 1321.4,2956.9 1321.4,2963.6 1317.0,2958.5 1310.5,2960.5 1314.1,2954.7 1310.1,2949.2 1316.7,2950.8" fill="#ffffff"/>
<polygon points="1343.7,2952.8 1344.3,2959.5 1350.7,2961.7 1344.4,2964.3 1344.4,2971.0 1340.0,2965.9 1333.5,2967.9 1337.1,2962.1 1333.1,2956.6 1339.7,2958.2" fill="#ffffff"/>
<polygon points="1367.4,2960.1 1368.0,2966.8 1374.4,2969.0 1368.1,2971.6 1368.1,2978.3 1363.7,2973.2 1357.2,2975.2 1360.8,2969.4 1356.8,2963.9 1363.4,2965.5" fill="#ffffff"/>
<g transform="translate(1221.5 2894.6) rotate(16.2) skewX(9) translate(-1221.5 -2894.6)"><text class="b" x="1222.69" y="2892.5" font-size="63.66" textLength="230.92" lengthAdjust="spacingAndGlyphs" fill="#ffffff" stroke="#ffffff" stroke-width="4.2" stroke-linejoin="round">Akreditasyon</text></g>
<text class="b" x="1741.31" y="2453.03" font-size="113.50" textLength="144.78" lengthAdjust="spacingAndGlyphs" fill="#000000" stroke="#000000" stroke-width="1.86" stroke-linejoin="round">99</text>
<rect x="1910.9" y="2401.8" width="65.1" height="24.4" fill="#000000"/>
<polygon points="1974.0,2377.7 2038.8,2414.8 1974.0,2452.9" fill="#000000"/>
<text class="b" x="2071.80" y="2407.68" font-size="48.22" textLength="235.97" lengthAdjust="spacingAndGlyphs" fill="#000000" stroke="#000000" stroke-width="1.19" stroke-linejoin="round">ÖĞRENCİ</text>
<text class="b" x="2072.28" y="2463.78" font-size="48.22" textLength="215.21" lengthAdjust="spacingAndGlyphs" fill="#000000" stroke="#000000" stroke-width="1.18" stroke-linejoin="round">KULÜBÜ</text>
<text class="b" x="2134.85" y="2671.35" font-size="51.20" textLength="206.38" lengthAdjust="spacingAndGlyphs" fill="#000000" stroke="#000000" stroke-width="0.31" stroke-linejoin="round">Personel</text>
<text class="b" x="1670.64" y="2774.95" font-size="111.39" textLength="200.74" lengthAdjust="spacingAndGlyphs" fill="#000000" stroke="#000000" stroke-width="1.95" stroke-linejoin="round">222</text>
<rect x="1896.2" y="2734.1" width="64.4" height="24.6" fill="#000000"/>
<polygon points="1959.6,2710.0 2022.9,2747.1 1959.6,2783.3" fill="#000000"/>
<text class="b" x="2057.08" y="2766.17" font-size="48.50" textLength="143.03" lengthAdjust="spacingAndGlyphs" fill="#000000" stroke="#000000" stroke-width="1.16" stroke-linejoin="round">İDARİ</text>
<text class="b" x="1687.46" y="2902.05" font-size="111.25" textLength="177.11" lengthAdjust="spacingAndGlyphs" fill="#000000" stroke="#000000" stroke-width="2.21" stroke-linejoin="round">431</text>
<rect x="1896.2" y="2857.0" width="64.4" height="24.6" fill="#000000"/>
<polygon points="1959.6,2832.0 2022.9,2868.6 1959.6,2906.6" fill="#000000"/>
<text class="b" x="2055.52" y="2886.98" font-size="47.79" textLength="280.62" lengthAdjust="spacingAndGlyphs" fill="#000000" stroke="#000000" stroke-width="1.14" stroke-linejoin="round">AKADEMİK</text>
<text class="b" x="176.37" y="3099.70" font-size="66.62" textLength="342.89" lengthAdjust="spacingAndGlyphs" fill="#000000">Kütüphane</text>
<line x1="540.9" y1="3088.5" x2="2324.1" y2="3088.5" stroke="#000" stroke-width="3.1" stroke-dasharray="14 11.08" stroke-dashoffset="5.8"/>
<text class="b" x="326.49" y="3228.72" font-size="100.42" textLength="404.52" lengthAdjust="spacingAndGlyphs" fill="#000000" stroke="#000000" stroke-width="1.76" stroke-linejoin="round">100.469</text>
<text class="r" x="785.54" y="3226.58" font-size="52.58" textLength="287.15" lengthAdjust="spacingAndGlyphs" fill="#000000" stroke="#000000" stroke-width="0.42" stroke-linejoin="round">Basılı Kitap</text>
<text class="b" x="341.60" y="3369.51" font-size="101.54" textLength="420.96" lengthAdjust="spacingAndGlyphs" fill="#000000" stroke="#000000" stroke-width="1.72" stroke-linejoin="round">890.896</text>
<text class="r" x="786.12" y="3361.28" font-size="51.71" textLength="412.76" lengthAdjust="spacingAndGlyphs" fill="#000000" stroke="#000000" stroke-width="0.39" stroke-linejoin="round">Elektronik Kitap</text>
<text class="b" x="1383.70" y="3243.02" font-size="100.70" textLength="254.27" lengthAdjust="spacingAndGlyphs" fill="#000000" stroke="#000000" stroke-width="1.95" stroke-linejoin="round">3.318</text>
<text class="r" x="1706.06" y="3231.08" font-size="52.44" textLength="608.04" lengthAdjust="spacingAndGlyphs" fill="#000000" stroke="#000000" stroke-width="0.43" stroke-linejoin="round">Görsel ve İşitsel Materya</text>
<rect x="2323.0" y="3169.0" width="4.0" height="38.8" fill="#000000"/>
<text class="b" x="1382.56" y="3368.21" font-size="102.10" textLength="294.79" lengthAdjust="spacingAndGlyphs" fill="#000000" stroke="#000000" stroke-width="2.06" stroke-linejoin="round">90.113</text>
<text class="r" x="1709.92" y="3361.28" font-size="52.87" textLength="419.51" lengthAdjust="spacingAndGlyphs" fill="#000000" stroke="#000000" stroke-width="0.40" stroke-linejoin="round">Elektronik Dergi</text>
<g fill="none" stroke="#000" stroke-width="5.9" stroke-linejoin="round" stroke-linecap="round">
<path d="M196.1,3158 L185.3,3158 L185.3,3227 L219,3227 Q228,3229 234.1,3231 Q240,3229 249,3227 L282.9,3227 L282.9,3157.9 L248.9,3157.9 Q241,3159 234.1,3164.6"/>
<path d="M234.1,3164.6 Q226,3152 210.5,3147.2 L196.1,3147.2 L196.1,3215.6 L210.5,3215.6 Q225,3218 234.1,3229"/>
<path d="M234.1,3174.5 L234.1,3218.5"/>
<path d="M250.5,3173.8 L269.6,3173.8 M246.5,3186.7 L269.6,3186.7 M246.5,3198.9 L269.6,3198.9 M246.5,3211.9 L269.6,3211.9"/>
</g>
<g fill="none" stroke="#000" stroke-width="5" stroke-linejoin="round" stroke-linecap="round">
<path d="M285.5,3362 L285.5,3290 Q285.5,3287.6 283,3287.6 L187,3287.6 Q184.6,3287.6 184.6,3290 L184.6,3374 Q184.6,3376.5 187,3376.5 L252,3376.5 Q254.3,3376.5 254.3,3374 L254.3,3358.5"/>
<path d="M198.5,3305 L198.5,3354 L270,3354 L270,3305"/>
<path d="M204,3298.5 L234.2,3309 L264.5,3298.5 L264.5,3347 L234.2,3354 L204,3347 Z"/>
<path d="M234.2,3309 L234.2,3356"/>
<path d="M198,3360.5 L250,3360.5 M260,3360.5 L271,3360.5"/>
<path d="M285.9,3362.5 C276,3362.5 273.5,3370 273.5,3377 L273.5,3388 C273.5,3396 279,3400.5 285.9,3400.5 C292.8,3400.5 298.3,3396 298.3,3388 L298.3,3377 C298.3,3370 295.8,3362.5 285.9,3362.5 Z M273.5,3376.9 L298.3,3376.9 M285.9,3362.5 L285.9,3376.9"/>
</g>
<g>
<circle cx="1287.5" cy="3189.2" r="37" fill="none" stroke="#000" stroke-width="9"/>
<line x1="1314" y1="3216" x2="1328" y2="3230" stroke="#000" stroke-width="10"/>
<line x1="1334" y1="3235" x2="1349" y2="3248" stroke="#000" stroke-width="17" stroke-linecap="round"/>
<path d="M1265.1,3209.8 L1265.1,3194.5 Q1265.1,3193.2 1266.5,3193.2 L1273.3,3193.2 Q1274.7,3193.2 1274.7,3194.5 L1274.7,3206.9 L1277,3206.9 L1277,3199.1 L1285.8,3199.1 L1285.8,3206.9 L1288,3206.9 L1288,3188.6 Q1288,3187.3 1289.3,3187.3 L1295.6,3187.3 Q1296.9,3187.3 1296.9,3188.6 L1296.9,3206.9 L1299.5,3206.9 L1299.5,3180.5 Q1299.5,3179.2 1300.8,3179.2 L1307.4,3179.2 Q1308.7,3179.2 1308.7,3180.5 L1308.7,3209.8 Z" fill="#000"/>
<polyline points="1269.9,3183.6 1280.6,3189.1 1292.8,3177.7 1303.9,3169.2" fill="none" stroke="#000" stroke-width="3.4"/>
<circle cx="1269.9" cy="3183.6" r="3.4" fill="#e3e3e3" stroke="#000" stroke-width="2.8"/>
<circle cx="1280.6" cy="3189.1" r="3.4" fill="#e3e3e3" stroke="#000" stroke-width="2.8"/>
<circle cx="1292.8" cy="3177.7" r="3.4" fill="#e3e3e3" stroke="#000" stroke-width="2.8"/>
<circle cx="1303.9" cy="3169.2" r="3.4" fill="#e3e3e3" stroke="#000" stroke-width="2.8"/>
</g>
<polygon points="1255.3,3311.0 1279.6,3300.8 1348.7,3357.4 1351.5,3363.1 1291.0,3392.5" fill="#142020"/>
<polygon points="1318.0,3282.0 1343.0,3285.0 1369.0,3348.0 1349.0,3355.0 1346.0,3343.0" fill="#f2f2f2"/>
<polygon points="1336.0,3287.5 1341.0,3286.5 1367.0,3346.0 1361.0,3348.0" fill="#8e8e8e"/>
<polygon points="1324.0,3285.0 1329.5,3284.4 1358.0,3344.0 1352.0,3346.5" fill="#8e8e8e"/>
<polygon points="1265.5,3316.7 1280.0,3303.0 1314.7,3280.4 1318.1,3281.6 1346.5,3342.7 1295.5,3384.6 1293.2,3381.2" fill="#878787"/>
</svg>
</body></html>
